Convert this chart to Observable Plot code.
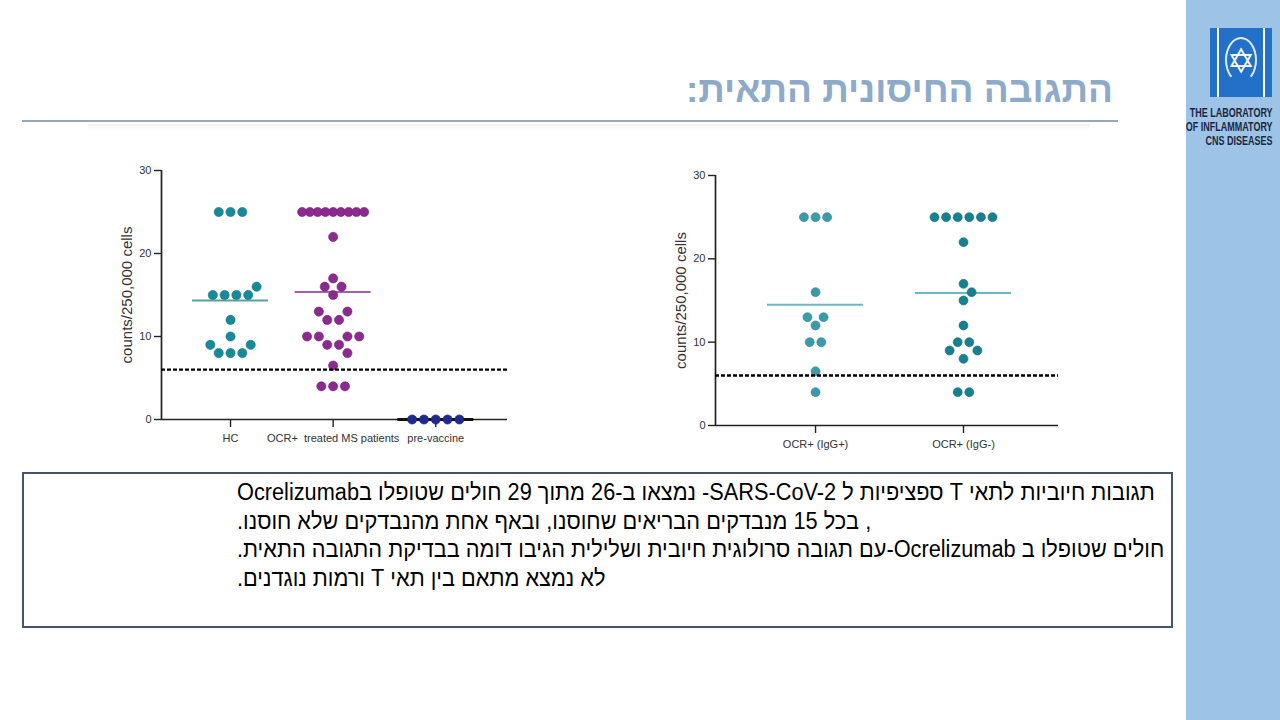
<!DOCTYPE html>
<html>
<head>
<meta charset="utf-8">
<script src="https://cdn.jsdelivr.net/npm/d3@7"></script>
<script src="https://cdn.jsdelivr.net/npm/@observablehq/plot@0.6"></script>
<style>
  html, body { margin: 0; padding: 0; }
  body { width: 1280px; height: 720px; overflow: hidden; background: #fff; position: relative; font-family: "Liberation Sans", Arial, sans-serif; }
  #sidebar { position: absolute; left: 1186px; top: 0; width: 94px; height: 720px; background: #9dc3e6; }
  #logo { position: absolute; left: 1210px; top: 28px; width: 62px; height: 69px; background: #2370c9; overflow: hidden; }
  #logo .bar { position: absolute; top: 0; width: 2px; height: 69px; background: #ffffff; }
  #logo .star { position: absolute; left: 0; top: 13px; width: 62px; text-align: center; color: #fff; font-size: 34px; line-height: 40px; font-family: "DejaVu Sans", sans-serif; }
  #logo .arc { position: absolute; left: 15px; top: 9px; width: 32px; height: 46px; border: 2px solid rgba(255,255,255,0.85); border-radius: 50%; border-bottom-color: transparent; box-sizing: border-box; }
  #labname { position: absolute; right: 7px; top: 106px; text-align: right; font-weight: bold; font-size: 12.5px; line-height: 14px; color: #1b2740; transform: scaleX(0.72); transform-origin: right top; white-space: nowrap; }
  #title { position: absolute; right: 167px; top: 70px; font-size: 37px; line-height: 40px; font-weight: bold; color: #8eaac9; white-space: nowrap; }
  #rule { position: absolute; left: 22px; top: 120px; width: 1096px; height: 1.5px; background: #93aab8; }
  #shadow { position: absolute; left: 88px; top: 124px; width: 1002px; height: 6px; background: linear-gradient(#f1f1f1, #ffffff); }
  #chart1 { position: absolute; left: 100px; top: 150px; }
  #chart2 { position: absolute; left: 650px; top: 155px; }
  #box { position: absolute; left: 22px; top: 472px; width: 1151px; height: 156px; border: 2px solid #44546a; box-sizing: border-box; }
  .line { position: absolute; left: 237px; white-space: nowrap; direction: rtl; text-align: left; font-size: 23px; line-height: 28px; color: #000; transform-origin: left center; }
</style>
</head>
<body>
<div id="sidebar"></div>
<div id="logo"><div class="bar" style="left:7px"></div><div class="bar" style="left:53px"></div><div class="arc"></div><div class="star">✡</div></div>
<div id="labname">THE LABORATORY<br>OF INFLAMMATORY<br>CNS DISEASES</div>
<div id="title" dir="rtl">התגובה החיסונית התאית:</div>
<div id="rule"></div>
<div id="shadow"></div>
<div id="chart1"></div>
<div id="chart2"></div>
<div id="box"></div>
<div id="text"></div>
<script>
// ---------- data ----------
const yTicks = [0, 10, 20, 30];
const yLabel = "counts/250,000 cells";
const threshold = 6;

// left panel
const leftGroups = ["HC", "OCR+  treated MS patients", "pre-vaccine"];
const hcValues = [25, 25, 25, 15, 15, 15, 15, 16, 12, 10, 8, 8, 8, 9, 9];
const ocrValues = [25, 25, 25, 25, 25, 25, 25, 25, 25, 22, 17, 16, 16, 15, 12, 12, 13, 13, 9, 9, 8, 10, 10, 10, 10, 6.5, 4, 4, 4];
const preValues = [0, 0, 0, 0, 0];
const leftColors = ["#178a9a", "#8c2a8f", "#1f2a8e"];
const leftMeanColors = ["#55a19c", "#aa5cb2", "#111111"];

// right panel
const rightGroups = ["OCR+ (IgG+)", "OCR+ (IgG-)"];
const igPosValues = [25, 25, 25, 16, 12, 13, 13, 10, 10, 6.5, 4];
const igNegValues = [25, 25, 25, 25, 25, 25, 22, 17, 16, 15, 12, 10, 10, 9, 9, 8, 4, 4];
const rightColors = ["#3a9bab", "#17808f"];
const rightMeanColors = ["#6fb6c3", "#6fb6c3"];

const textLines = [
  "תגובות חיוביות לתאי T ספציפיות ל SARS-CoV-2- נמצאו ב-26 מתוך 29 חולים שטופלו בOcrelizumab",
  ", בכל 15 מנבדקים הבריאים שחוסנו, ובאף אחת מהנבדקים שלא חוסנו.",
  " חולים שטופלו ב Ocrelizumab-עם תגובה סרולוגית חיובית ושלילית הגיבו דומה בבדיקת התגובה התאית.",
  "לא נמצא מתאם בין תאי T ורמות נוגדנים."
];

// ---------- beeswarm layout (pixel space) ----------
function swarm(values, pxPerY, d, maxHalf) {
  const pts = [];
  let i = 0;
  while (i < values.length) {
    let j = i;
    while (j < values.length && values[j] === values[i]) j++;
    const run = [];
    for (let k = i; k < j; k++) {
      const y = values[k] * pxPerY;
      const others = pts.concat(run);
      const cands = [0];
      for (const p of others) {
        const dy = Math.abs(p.y - y);
        if (dy < d) {
          const dx = Math.sqrt(d * d - dy * dy);
          cands.push(p.x - dx, p.x + dx);
        }
      }
      cands.sort((a, b) => Math.abs(a) - Math.abs(b) || b - a);
      const ok = c => others.every(p => (p.x - c) ** 2 + (p.y - y) ** 2 >= d * d - 1e-3);
      run.push({x: cands.find(ok), y});
    }
    const m = d3.mean(run, p => p.x);
    if (Math.abs(m) > 1e-6 && run.every(p => pts.every(q => (p.x - m - q.x) ** 2 + (p.y - q.y) ** 2 >= d * d - 1e-3))) {
      run.forEach(p => p.x -= m);
    }
    const ext = d3.max(run, p => Math.abs(p.x));
    if (run.length > 1 && ext > maxHalf) {
      const s = 2 * maxHalf / (run.length - 1);
      run.slice().sort((a, b) => a.x - b.x).forEach((p, k) => p.x = -maxHalf + k * s);
    }
    pts.push(...run);
    i = j;
  }
  return pts.map(p => p.x);
}

function panel(cfg) {
  const {groups, series, colors, meanColors, W, H, ml, mr, mt, mb, xDomain, meanHalf, gap, maxHalf, r} = cfg;
  const pw = W - ml - mr, ph = H - mt - mb;
  const pxX = pw / (xDomain[1] - xDomain[0]);
  const pxY = ph / (yTicks[yTicks.length - 1] - yTicks[0]);
  const dotMarks = [], meanMarks = [];
  series.forEach((vals, gi) => {
    const offs = swarm(vals, pxY, 2 * r + gap, maxHalf);
    const pts = vals.map((v, k) => ({value: v, x: gi + offs[k] / pxX}));
    const mean = [{g: gi, mean: d3.mean(vals)}];
    meanMarks.push(Plot.ruleY(mean, {y: "mean", x1: d => d.g - meanHalf, x2: d => d.g + meanHalf, stroke: meanColors[gi], strokeWidth: gi === 2 ? 2.8 : 2}));
    dotMarks.push(Plot.dot(pts, {x: "x", y: "value", r, fill: colors[gi], stroke: d3.color(colors[gi]).darker(0.5).formatHex(), strokeWidth: 0.6}));
  });
  return Plot.plot({
    width: W, height: H,
    marginLeft: ml, marginRight: mr, marginTop: mt, marginBottom: mb,
    x: {domain: xDomain},
    y: {domain: [yTicks[0], yTicks[yTicks.length - 1]]},
    style: {fontFamily: "'Liberation Sans', Arial, sans-serif", fontSize: "11px", color: "#333", background: "transparent", overflow: "visible"},
    marks: [
      Plot.axisY({ticks: yTicks, tickSize: 7, tickPadding: 3, label: null, stroke: "#222", strokeWidth: 1.4, fill: "#333", fontSize: 11}),
      Plot.axisX({ticks: groups.map((_, i) => i), tickFormat: i => groups[i], tickSize: 8, tickPadding: 7, label: null, stroke: "#222", strokeWidth: 1.4, fill: "#333", fontSize: 11}),
      Plot.ruleX([xDomain[0]], {y1: yTicks[0], y2: yTicks[yTicks.length - 1], stroke: "#222", strokeWidth: 1.7}),
      Plot.ruleY([0], {stroke: "#222", strokeWidth: 1.7}),
      ...meanMarks,
      ...dotMarks,
      Plot.ruleY([threshold], {stroke: "#000", strokeWidth: 2.3, strokeDasharray: "4,2"}),
      Plot.text([yLabel], {text: d => d, frameAnchor: "left", textAnchor: "middle", rotate: -90, dx: cfg.labelDx, fontSize: 15, fill: "#333"})
    ]
  });
}

document.getElementById("chart1").append(panel({
  groups: leftGroups, series: [hcValues, ocrValues, preValues],
  colors: leftColors, meanColors: leftMeanColors,
  W: 420, H: 300, ml: 61, mr: 13, mt: 20, mb: 31,
  xDomain: [-0.6725, 2.699], meanHalf: 0.37, gap: 2.6, maxHalf: 31, r: 4.6, labelDx: -34
}));

document.getElementById("chart2").append(panel({
  groups: rightGroups, series: [igPosValues, igNegValues],
  colors: rightColors, meanColors: rightMeanColors,
  W: 420, H: 300, ml: 65, mr: 12, mt: 20, mb: 30,
  xDomain: [-0.676, 1.642], meanHalf: 0.325, gap: 2.6, maxHalf: 40, r: 4.5, labelDx: -34
}));

const textHost = document.getElementById("text");
const lineDivs = textLines.map((t, i) => {
  const div = document.createElement("div");
  div.className = "line";
  div.setAttribute("dir", "rtl");
  div.style.top = (478 + i * 28.7) + "px";
  div.textContent = t;
  textHost.append(div);
  return div;
});
// condense the paragraph so that its longest lines span the box like the slide
const w1 = lineDivs[0].getBoundingClientRect().width;
const w3 = lineDivs[2].getBoundingClientRect().width;
const sx = (926 / w1 + 919 / w3) / 2;
lineDivs.forEach(div => div.style.transform = `scaleX(${sx})`);
</script>
</body>
</html>
